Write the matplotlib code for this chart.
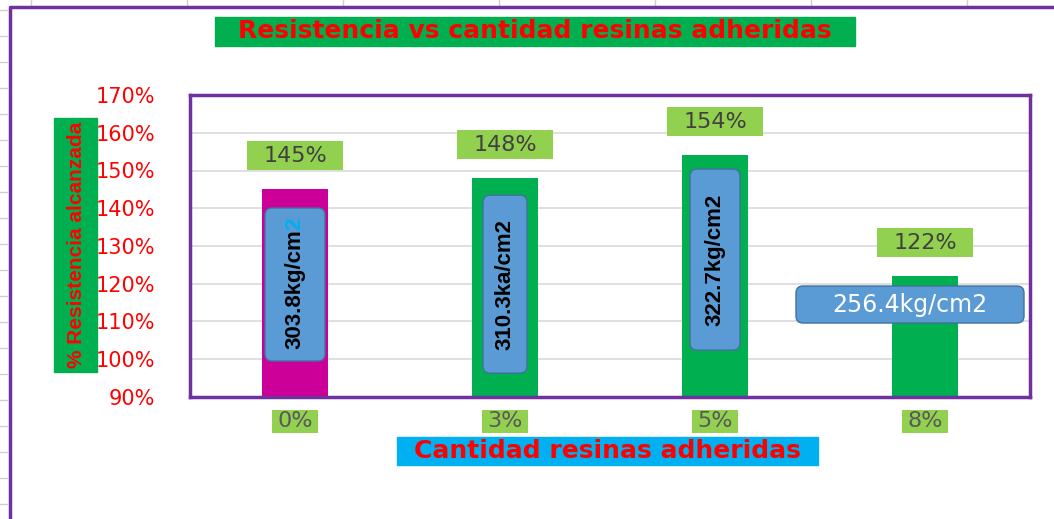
import matplotlib as mpl
mpl.use('Agg')
import matplotlib.pyplot as plt
from matplotlib.patches import FancyBboxPatch, Rectangle
from matplotlib.transforms import Affine2D, ScaledTranslation

# datos del ensayo
cantidades = ['0%', '3%', '5%', '8%']
resistencia = [145, 148, 154, 122]          # % de resistencia alcanzada
esfuerzos = ['303.8kg/cm2', '310.3ka/cm2', '322.7kg/cm2', '256.4kg/cm2']
colores = ['#CC0099', '#00B050', '#00B050', '#00B050']

# posicion de las etiquetas kg/cm2 (en % del eje) y su tamaño en px
tag_y = [119.8, 119.9, 126.4, 114.5]
tag_dx = [0, 0, 0, -15]
tag_size = [(60, 153), (44, 178), (50, 181), (228, 37)]

ROJO = '#FF0000'
VERDE = '#00B050'
VERDE_CLARO = '#92D050'
AZUL = '#5B9BD5'
MORADO = '#7030A0'
ESTRECHA = ['Liberation Sans', 'DejaVu Sans']

W, H = 1054, 519
fig = plt.figure(figsize=(W / 100, H / 100), dpi=100)

# fondo tipo hoja de calculo (coordenadas en px)
bg = fig.add_axes([0, 0, 1, 1])
bg.set_xlim(0, W)
bg.set_ylim(H, 0)
bg.axis('off')
for yy in range(10, H, 26):
    bg.plot([0, 7], [yy, yy], color='#D0D0D0', lw=1)
for xx in range(31, W, 156):
    bg.plot([xx, xx], [0, 5], color='#D0D0D0', lw=1)
bg.plot([10, 10, W], [H, 7, 7], color=MORADO, lw=2.5, solid_joinstyle='round')

# titulo
bg.add_patch(Rectangle((215, 17), 640, 29, color=VERDE))
bg.text(535, 31.5, 'Resistencia vs cantidad resinas adheridas', ha='center', va='center',
        color=ROJO, fontsize=18, fontweight='bold')
# titulo eje y
bg.add_patch(Rectangle((54, 118), 43, 254, color=VERDE))
bg.text(76, 245, '% Resistencia alcanzada', rotation=90, ha='center', va='center',
        color=ROJO, fontsize=15, fontweight='bold', family=ESTRECHA)
# titulo eje x
bg.add_patch(Rectangle((397, 437), 421, 28, color='#00B0F0'))
bg.text(607.5, 451, 'Cantidad resinas adheridas', ha='center', va='center',
        color=ROJO, fontsize=18, fontweight='bold')

ax = fig.add_axes([190 / W, 1 - 397 / H, 840 / W, (397 - 95) / H])
x = list(range(len(cantidades)))
ax.bar(x, resistencia, width=0.31, color=colores, zorder=2)
ax.set_xlim(-0.5, len(cantidades) - 0.5)
ax.set_ylim(90, 170)
ax.set_yticks(range(90, 171, 10))
ax.set_yticklabels([f'{v}%' for v in range(90, 171, 10)])
ax.tick_params(axis='y', length=0, pad=25, labelcolor=ROJO, labelsize=15)
ax.set_xticks([])
ax.yaxis.grid(True, color='#D9D9D9', lw=1.2)
ax.set_axisbelow(True)
for s in ax.spines.values():
    s.set_color(MORADO)
    s.set_linewidth(2.5)


def caja(axe, xv, yv, w, h, color, dx=0, dy=0, redondo=False, borde=None):
    # caja de tamaño fijo en px anclada a un punto de datos
    tr = Affine2D().translate(dx - w / 2, dy - h / 2) + ScaledTranslation(xv, yv, axe.transData)
    estilo = 'round,pad=0,rounding_size=7' if redondo else 'square,pad=0'
    p = FancyBboxPatch((0, 0), w, h, boxstyle=estilo, transform=tr, facecolor=color,
                       edgecolor=borde or 'none', lw=1, clip_on=False, zorder=3)
    axe.add_artist(p)


for i, xi in enumerate(x):
    # valor sobre la barra
    caja(ax, xi, resistencia[i], 96, 29, VERDE_CLARO, dy=33.5)
    ax.annotate(f'{resistencia[i]}%', xy=(xi, resistencia[i]), xytext=(0, 33.5),
                textcoords='offset pixels', ha='center', va='center',
                color='#404040', fontsize=16, zorder=4, annotation_clip=False)
    # categoria bajo el eje
    caja(ax, xi, 90, 46, 23, VERDE_CLARO, dy=-24.5)
    ax.annotate(cantidades[i], xy=(xi, 90), xytext=(0, -24.5), textcoords='offset pixels',
                ha='center', va='center', color='#595959', fontsize=16, zorder=4,
                annotation_clip=False)
    # etiqueta de esfuerzo
    w, h = tag_size[i]
    caja(ax, xi, tag_y[i], w, h, AZUL, dx=tag_dx[i], redondo=True, borde='#41719C')
    if w > h:
        ax.annotate(esfuerzos[i], xy=(xi, tag_y[i]), xytext=(tag_dx[i], 0),
                    textcoords='offset pixels', ha='center', va='center',
                    color='white', fontsize=17, zorder=4)
    elif i == 0:
        t1 = ax.annotate(esfuerzos[i][:-1], xy=(xi, tag_y[i]), xytext=(0, -5),
                         textcoords='offset pixels', rotation=90, ha='center', va='center',
                         color='black', fontsize=16, fontweight='bold', family=ESTRECHA, zorder=4)
        ax.annotate(esfuerzos[i][-1], xy=(0.5, 1.0), xycoords=t1, rotation=90,
                    ha='center', va='bottom', color='#00B0F0', fontsize=16,
                    fontweight='bold', family=ESTRECHA, zorder=4)
    else:
        ax.annotate(esfuerzos[i], xy=(xi, tag_y[i]), rotation=90, ha='center', va='center',
                    color='black', fontsize=16, fontweight='bold', family=ESTRECHA, zorder=4)

fig.savefig('out.png', dpi=100)
